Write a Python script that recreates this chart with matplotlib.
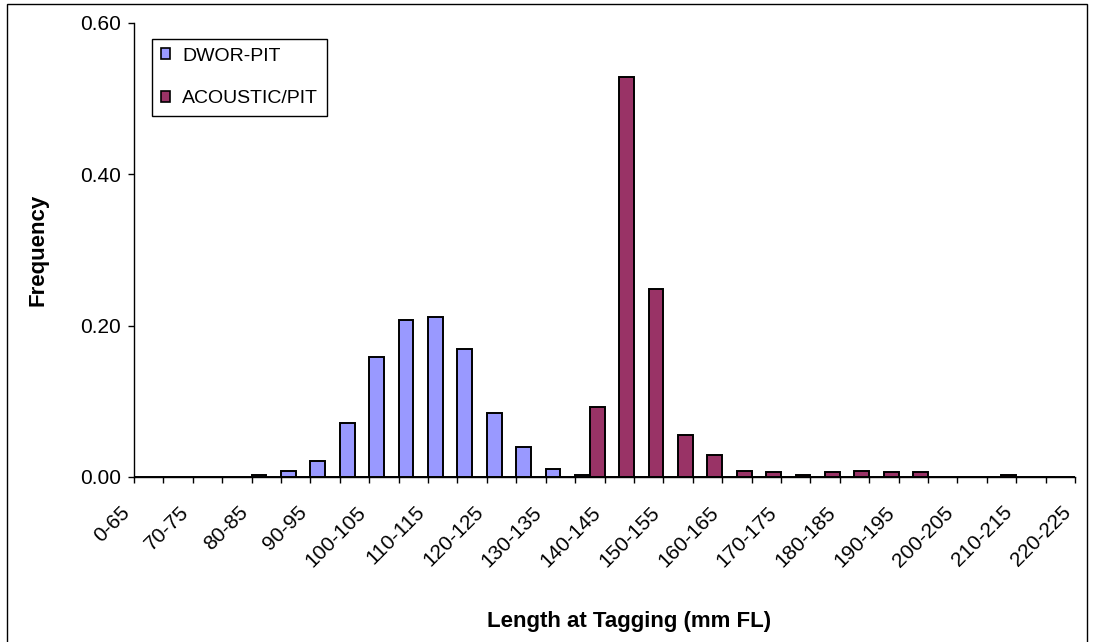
import matplotlib
matplotlib.use('Agg')
import matplotlib.pyplot as plt
from matplotlib.patches import Patch, Rectangle
from matplotlib.transforms import ScaledTranslation
import numpy as np

# length classes (tick labels sit on the class boundaries)
bin_labels = ['0-65'] + ['%d-%d' % (lo, lo + 5) for lo in range(65, 225, 5)]

# frequency per slot between consecutive ticks (slot k starts at bin_labels[k])
dwor_pit = [0, 0, 0, 0, 0.002, 0.008, 0.021, 0.071, 0.159, 0.208, 0.212, 0.169,
            0.085, 0.040, 0.011, 0.002, 0, 0, 0, 0, 0, 0, 0, 0,
            0, 0, 0, 0, 0, 0, 0, 0]
acoustic_pit = [0, 0, 0, 0, 0, 0, 0, 0, 0, 0, 0, 0,
                0, 0, 0, 0.092, 0.529, 0.249, 0.056, 0.029, 0.008, 0.006, 0.002, 0.006,
                0.008, 0.006, 0.006, 0, 0, 0.002, 0, 0]

plt.rcParams['font.family'] = ['Liberation Sans', 'DejaVu Sans']

fig = plt.figure(figsize=(10.95, 6.42), dpi=100)
ax = fig.add_axes([134 / 1095, 165 / 642, 941 / 1095, 454 / 642])

x = np.arange(len(dwor_pit))
ax.bar(x + 0.25, dwor_pit, width=0.5, color='#9999FF', edgecolor='black', linewidth=1.4)
ax.bar(x + 0.75, acoustic_pit, width=0.5, color='#993366', edgecolor='black', linewidth=1.4)

ax.set_xlim(0, len(dwor_pit))
ax.set_ylim(0, 0.6)
ax.set_yticks([0, 0.2, 0.4, 0.6])
ax.set_yticklabels(['%.2f' % v for v in [0, 0.2, 0.4, 0.6]], fontsize=15)

ax.set_xticks(np.arange(len(bin_labels)))
ax.set_xticklabels([lab if i % 2 == 0 else '' for i, lab in enumerate(bin_labels)],
                   rotation=45, ha='right', va='top', fontsize=15)
for lab in ax.get_xticklabels():
    lab.set_transform(lab.get_transform() + ScaledTranslation(0.05, 0, fig.dpi_scale_trans))

ax.tick_params(axis='x', direction='out', length=4.5, width=1, pad=14)
ax.tick_params(axis='y', direction='out', length=4.5, width=1, pad=5)

for s in ['top', 'right']:
    ax.spines[s].set_visible(False)
ax.spines['left'].set_linewidth(1)
ax.spines['bottom'].set_linewidth(1)

fig.text(629 / 1095, 1 - 621 / 642, 'Length at Tagging (mm FL)', fontsize=16,
         fontweight='bold', ha='center', va='center')
fig.text(38 / 1095, 1 - 250 / 642, 'Frequency', fontsize=16, fontweight='bold',
         rotation=90, ha='center', va='center')

handles = [Patch(facecolor='#9999FF', edgecolor='black', linewidth=1.2),
           Patch(facecolor='#993366', edgecolor='black', linewidth=1.2)]
leg = fig.legend(handles, ['DWOR-PIT', 'ACOUSTIC/PIT'], loc='upper left',
                 bbox_to_anchor=(152 / 1095, 1 - 39 / 642), fontsize=14,
                 frameon=True, fancybox=False, framealpha=1, edgecolor='black',
                 handlelength=0.5, handleheight=0.5, handletextpad=0.6,
                 labelspacing=1.3, borderpad=0.45, borderaxespad=0)
leg.get_frame().set_linewidth(1)

# outer chart border
fig.add_artist(Rectangle((7 / 1095, -0.02), 1080 / 1095, 1 - 4 / 642 + 0.02,
                         transform=fig.transFigure, fill=False, edgecolor='black',
                         linewidth=1))

fig.savefig('out.png', dpi=100)
